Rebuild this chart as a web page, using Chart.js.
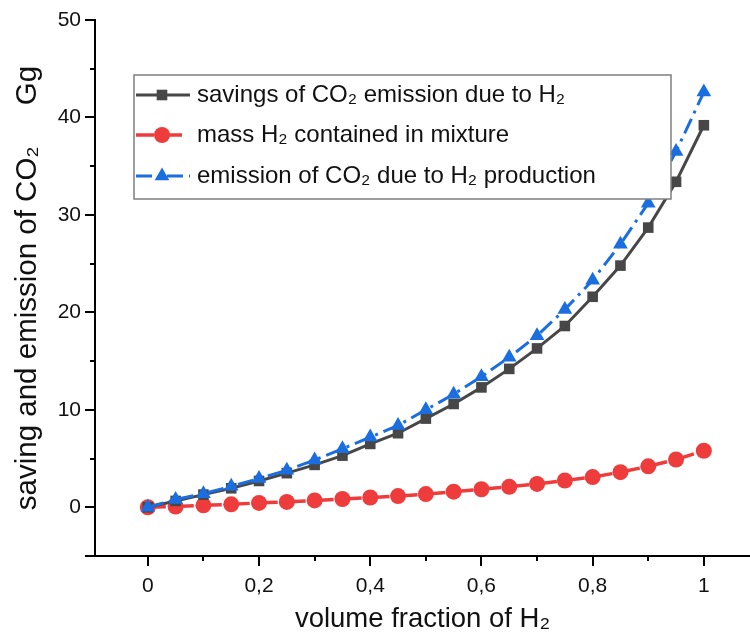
<!DOCTYPE html>
<html>
<head>
<meta charset="utf-8">
<script src="https://cdn.jsdelivr.net/npm/chart.js@4.4.1/dist/chart.umd.min.js"></script>
<style>
  html, body { margin: 0; padding: 0; background: #fff; }
  canvas { display: block; }
</style>
</head>
<body>
<canvas id="h2Chart" width="750" height="644"></canvas>
<script>
// values
const fractions = [0, 0.05, 0.1, 0.15, 0.2, 0.25, 0.3, 0.35, 0.4, 0.45, 0.5,
                   0.55, 0.6, 0.65, 0.7, 0.75, 0.8, 0.85, 0.9, 0.95, 1];
const savingsCO2 = [0, 0.65, 1.3, 1.95, 2.7, 3.5, 4.35, 5.3, 6.5, 7.6, 9.1,
                    10.6, 12.3, 14.2, 16.3, 18.6, 21.6, 24.8, 28.7, 33.4, 39.2];
const massH2 = [0, 0.07, 0.2, 0.3, 0.45, 0.55, 0.7, 0.85, 1.0, 1.15, 1.35,
                1.6, 1.85, 2.1, 2.4, 2.75, 3.1, 3.6, 4.2, 4.9, 5.8];
const emissionCO2 = [0, 0.8, 1.4, 2.15, 2.95, 3.8, 4.85, 6.0, 7.2, 8.4, 10.0,
                     11.6, 13.4, 15.4, 17.6, 20.3, 23.3, 27.0, 31.2, 36.5, 42.6];

const xTickValues = [0, 0.1, 0.2, 0.3, 0.4, 0.5, 0.6, 0.7, 0.8, 0.9, 1];
const xTickLabels = ['0', '', '0,2', '', '0,4', '', '0,6', '', '0,8', '', '1'];
const yTickValues = [-5, 0, 5, 10, 15, 20, 25, 30, 35, 40, 45, 50];
const yTickLabels = ['', '0', '', '10', '', '20', '', '30', '', '40', '', '50'];

const FONT = "'Liberation Sans', Arial, sans-serif";

function toPoints(ys) {
    return fractions.map((x, i) => ({ x: x, y: ys[i] }));
}

// major/minor tick marks (major = labelled)
const tickMarks = {
    id: 'tickMarks',
    afterDraw(chart) {
        const ctx = chart.ctx;
        const xs = chart.scales.x, ys = chart.scales.y;
        ctx.save();
        ctx.strokeStyle = '#000';
        ctx.lineWidth = 2;
        xTickValues.forEach((v, i) => {
            const px = Math.round(xs.getPixelForValue(v));
            const len = xTickLabels[i] ? 10 : 5;
            ctx.beginPath();
            ctx.moveTo(px, xs.top);
            ctx.lineTo(px, xs.top + len);
            ctx.stroke();
        });
        yTickValues.forEach((v, i) => {
            const py = Math.round(ys.getPixelForValue(v));
            const len = (yTickLabels[i] || v === -5) ? 10 : 5;
            ctx.beginPath();
            ctx.moveTo(ys.right, py);
            ctx.lineTo(ys.right - len, py);
            ctx.stroke();
        });
        ctx.restore();
    }
};

function drawMarker(ctx, style, r, x, y, color) {
    ctx.fillStyle = color;
    ctx.beginPath();
    if (style === 'rect') {
        const s = r * Math.SQRT1_2;
        ctx.rect(x - s, y - s, 2 * s, 2 * s);
    } else if (style === 'triangle') {
        for (let k = 0; k < 3; k++) {
            const a = k * 2 * Math.PI / 3;
            const px = x + Math.sin(a) * r, py = y - Math.cos(a) * r;
            if (k === 0) ctx.moveTo(px, py); else ctx.lineTo(px, py);
        }
        ctx.closePath();
    } else {
        ctx.arc(x, y, r, 0, 2 * Math.PI);
    }
    ctx.fill();
}

// framed legend with line + marker samples
const boxLegend = {
    id: 'boxLegend',
    afterDatasetsDraw(chart) {
        const ctx = chart.ctx;
        const box = { left: 134, top: 75, right: 671, bottom: 199 };
        const rows = [95, 135, 176];
        ctx.save();
        ctx.fillStyle = '#fff';
        ctx.fillRect(box.left, box.top, box.right - box.left, box.bottom - box.top);
        ctx.strokeStyle = '#7f7f7f';
        ctx.lineWidth = 1.5;
        ctx.strokeRect(box.left, box.top, box.right - box.left, box.bottom - box.top);
        chart.data.datasets.forEach((ds, i) => {
            const y = rows[i];
            ctx.strokeStyle = ds.borderColor;
            ctx.lineWidth = ds.borderWidth;
            ctx.setLineDash(ds.borderDash || []);
            ctx.beginPath();
            ctx.moveTo(box.left + 2, y);
            ctx.lineTo(box.left + 56, y);
            ctx.stroke();
            ctx.setLineDash([]);
            drawMarker(ctx, ds.pointStyle, ds.pointRadius, box.left + 28, y, ds.pointBackgroundColor);
            ctx.fillStyle = '#111';
            ctx.font = '24px ' + FONT;
            ctx.textBaseline = 'middle';
            ctx.textAlign = 'left';
            ctx.fillText(ds.label, box.left + 63, y);
        });
        ctx.restore();
    }
};

const ctx = document.getElementById('h2Chart').getContext('2d');
const h2Chart = new Chart(ctx, {
    type: 'line',
    data: {
        datasets: [{
            label: 'savings of CO\u2082 emission due to H\u2082',
            data: toPoints(savingsCO2),
            borderColor: '#474747',
            pointBackgroundColor: '#474747',
            pointBorderWidth: 0,
            borderWidth: 3,
            pointStyle: 'rect',
            pointRadius: 7.5,
            order: 1
        }, {
            label: 'mass H\u2082 contained in mixture',
            data: toPoints(massH2),
            borderColor: '#ee3c3c',
            pointBackgroundColor: '#ee3c3c',
            pointBorderWidth: 0,
            borderWidth: 3.5,
            borderDash: [18, 10],
            pointStyle: 'circle',
            pointRadius: 8,
            order: 2
        }, {
            label: 'emission of CO\u2082 due to H\u2082 production',
            data: toPoints(emissionCO2),
            borderColor: '#1b6ee0',
            pointBackgroundColor: '#1b6ee0',
            pointBorderWidth: 0,
            borderWidth: 3,
            borderDash: [16, 6, 3, 6],
            pointStyle: 'triangle',
            pointRadius: 8.5,
            order: 0
        }]
    },
    options: {
        responsive: false,
        animation: false,
        layout: {
            autoPadding: false,
            padding: { top: 20, right: 0, bottom: 0, left: 0 }
        },
        plugins: {
            legend: { display: false },
            tooltip: { enabled: false }
        },
        elements: { line: { tension: 0 } },
        scales: {
            x: {
                type: 'linear',
                min: -0.095,
                max: 1.083,
                afterBuildTicks: scale => {
                    scale.ticks = xTickValues.map(v => ({ value: v }));
                },
                afterFit: scale => { scale.height = 88; },
                grid: { display: false, drawTicks: false },
                border: { display: true, color: '#000', width: 2 },
                ticks: {
                    autoSkip: false,
                    maxRotation: 0,
                    padding: 18,
                    color: '#111',
                    font: { family: FONT, size: 21 },
                    callback: (value, index) => xTickLabels[index]
                },
                title: {
                    display: true,
                    text: 'volume fraction of H\u2082',
                    color: '#111',
                    font: { family: FONT, size: 27.5 },
                    padding: { top: 0, bottom: 8 }
                }
            },
            y: {
                min: -5,
                max: 50,
                afterBuildTicks: scale => {
                    scale.ticks = yTickValues.map(v => ({ value: v }));
                },
                afterFit: scale => {
                    scale.width = 95;
                    scale.paddingTop = 0;
                    scale.paddingBottom = 0;
                },
                grid: { display: false, drawTicks: false },
                border: { display: true, color: '#000', width: 2 },
                ticks: {
                    autoSkip: false,
                    padding: 14,
                    color: '#111',
                    font: { family: FONT, size: 21 },
                    callback: (value, index) => yTickLabels[index]
                },
                title: {
                    display: true,
                    text: 'saving and emission of CO\u2082     Gg',
                    color: '#111',
                    font: { family: FONT, size: 29.5 },
                    padding: { top: 10, bottom: 0 }
                }
            }
        }
    },
    plugins: [tickMarks, boxLegend]
});
</script>
</body>
</html>
